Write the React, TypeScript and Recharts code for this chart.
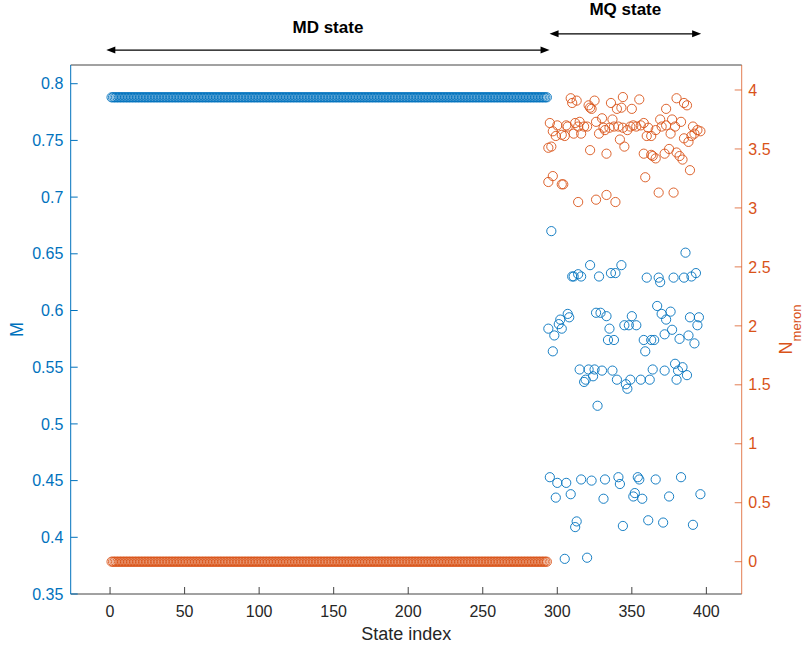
import React from 'react';
import { ScatterChart, Scatter, XAxis, YAxis, ReferenceLine } from 'recharts';

const FONT = '"Liberation Sans", Arial, Helvetica, sans-serif';
const BLUE = '#0072BD';
const ORANGE = '#D95319';
const FRAME = '#444444';

// Axis ticks
const xTicks = [0, 50, 100, 150, 200, 250, 300, 350, 400];
const mTicks = [0.35, 0.4, 0.45, 0.5, 0.55, 0.6, 0.65, 0.7, 0.75, 0.8];
const nTicks = [0, 0.5, 1, 1.5, 2, 2.5, 3, 3.5, 4];

// MD states: one value of M and N shared by every state in the range
const mdFirstIndex = 1;
const mdLastIndex = 293;
const mdM = 0.788;
const mdN = 0;

// MQ states: magnetization M
const mqIndexM = [
  296, 386, 310, 311, 314, 316, 322, 328, 336, 339, 343, 360, 368, 369, 378, 385, 390, 393,
  307, 308, 302, 301, 294, 303, 326, 329, 333, 350, 335, 345, 348, 353, 367, 370, 376, 373,
  389, 395, 394, 377, 298, 297, 334, 338, 358, 363, 365, 359, 372, 382, 388, 392,
  315, 321, 325, 330, 337, 324, 319, 318, 340, 346, 347, 349, 356, 362, 364, 372, 379, 381,
  384, 387, 380, 327,
  295, 300, 306, 316, 323, 332, 341, 342, 354, 355, 366, 383,
  299, 309, 331, 352, 351, 357, 375, 396,
  313, 312, 344, 361, 371, 391, 305, 320,
];
const mqM = [
  0.670, 0.651, 0.630, 0.630, 0.632, 0.630, 0.640, 0.630, 0.633, 0.633, 0.640, 0.629, 0.629, 0.625, 0.629, 0.629, 0.630, 0.633,
  0.597, 0.594, 0.592, 0.588, 0.584, 0.584, 0.598, 0.598, 0.595, 0.595, 0.584, 0.587, 0.587, 0.587, 0.604, 0.597, 0.599, 0.592,
  0.594, 0.594, 0.587, 0.583, 0.578, 0.564, 0.574, 0.574, 0.574, 0.574, 0.574, 0.564, 0.579, 0.575, 0.578, 0.571,
  0.548, 0.548, 0.548, 0.547, 0.547, 0.542, 0.539, 0.537, 0.539, 0.535, 0.531, 0.539, 0.539, 0.539, 0.548, 0.547, 0.553, 0.547,
  0.550, 0.543, 0.539, 0.516,
  0.453, 0.448, 0.448, 0.451, 0.450, 0.451, 0.453, 0.447, 0.453, 0.451, 0.451, 0.453,
  0.435, 0.438, 0.434, 0.439, 0.436, 0.434, 0.436, 0.438,
  0.414, 0.409, 0.410, 0.415, 0.413, 0.411, 0.381, 0.382,
];

// MQ states: meron number
const mqIndexN = [
  309, 310, 313, 321, 322, 323, 325, 336, 340, 343, 344, 350, 355, 373, 380, 385, 387,
  295, 297, 300, 299, 303, 305, 306, 307, 311, 315, 316, 318, 320, 314, 326, 328, 330, 331, 332,
  337, 338, 341, 344, 347, 349, 351, 353, 356, 358, 360, 361, 363, 366, 369, 370, 373, 376, 377,
  379, 383, 385, 388, 391, 392, 394, 396, 390, 335, 312, 342, 345,
  296, 294, 322, 333, 358, 363, 366, 364, 372, 375, 380, 382, 384, 389,
  294, 297, 303, 304, 359, 368, 378, 314, 326, 333, 339,
];
const mqN = [
  3.93, 3.89, 3.91, 3.87, 3.85, 3.84, 3.91, 3.89, 3.84, 3.85, 3.94, 3.84, 3.92, 3.84, 3.93, 3.89, 3.87,
  3.72, 3.65, 3.70, 3.61, 3.62, 3.61, 3.70, 3.69, 3.63, 3.73, 3.63, 3.69, 3.69, 3.69, 3.73, 3.63, 3.76, 3.68, 3.66,
  3.75, 3.69, 3.69, 3.68, 3.66, 3.69, 3.70, 3.69, 3.70, 3.72, 3.61, 3.68, 3.61, 3.66, 3.75, 3.69, 3.70, 3.63, 3.75,
  3.69, 3.73, 3.59, 3.56, 3.69, 3.63, 3.66, 3.65, 3.61, 3.68, 3.72, 3.58, 3.52,
  3.52, 3.51, 3.49, 3.46, 3.46, 3.45, 3.42, 3.44, 3.46, 3.50, 3.47, 3.44, 3.41, 3.32,
  3.22, 3.27, 3.20, 3.20, 3.26, 3.13, 3.13, 3.05, 3.07, 3.11, 3.05,
];

const mdIndices = Array.from({ length: mdLastIndex - mdFirstIndex + 1 }, (_, i) => mdFirstIndex + i);

const mData = [
  ...mdIndices.map((x) => ({ x, y: mdM })),
  ...mqIndexM.map((x, i) => ({ x, y: mqM[i] })),
];
const nData = [
  ...mdIndices.map((x) => ({ x, y: mdN })),
  ...mqIndexN.map((x, i) => ({ x, y: mqN[i] })),
];

const ring = (color: string) => (props: any) => (
  <circle cx={props.cx} cy={props.cy} r={4.6} fill="none" stroke={color} strokeWidth={0.9} />
);

// Double-headed arrow with a caption centred above it
const spanArrow = (caption: string, rise: number) => (props: any) => {
  const { x1, y1, x2, y2 } = props;
  const head = 9;
  const half = 3.5;
  const mid = (x1 + x2) / 2;
  return (
    <g>
      <line x1={x1 + head - 1} y1={y1} x2={x2 - head + 1} y2={y2} stroke="#000" strokeWidth={1.3} />
      <polygon points={`${x1},${y1} ${x1 + head},${y1 - half} ${x1 + head},${y1 + half}`} fill="#000" />
      <polygon points={`${x2},${y2} ${x2 - head},${y2 - half} ${x2 - head},${y2 + half}`} fill="#000" />
      <text x={mid} y={y1 - rise} textAnchor="middle" dominantBaseline="central" fontFamily={FONT} fontSize={17} fontWeight="bold" fill="#000">
        {caption}
      </text>
    </g>
  );
};

const xLabel = (props: any) => {
  const vb = props.viewBox;
  return (
    <text x={vb.x + vb.width / 2} y={634} textAnchor="middle" dominantBaseline="central" fontFamily={FONT} fontSize={18} fill="#262626">
      State index
    </text>
  );
};

const mLabel = (props: any) => {
  const vb = props.viewBox;
  const cy = vb.y + vb.height / 2;
  return (
    <text transform={`translate(${vb.x + 12}, ${cy}) rotate(-90)`} textAnchor="middle" fontFamily={FONT} fontSize={18} fill={BLUE}>
      M
    </text>
  );
};

const nLabel = (props: any) => {
  const vb = props.viewBox;
  const cy = vb.y + vb.height / 2;
  return (
    <text transform={`translate(${vb.x + 50}, ${cy}) rotate(-90)`} textAnchor="middle" fontFamily={FONT} fontSize={18} fill={ORANGE}>
      <tspan>N</tspan>
      <tspan fontSize={13} dy={9}>meron</tspan>
    </text>
  );
};

export default function App() {
  return (
    <div style={{ position: 'absolute', left: 0, top: 0, width: 806, height: 648, background: '#fff' }}>
      <ScatterChart width={806} height={648} margin={{ top: 64, right: 4.3, bottom: 14, left: 10.7 }}>
        <XAxis
          xAxisId="main"
          type="number"
          dataKey="x"
          domain={[-26.4, 423.7]}
          allowDataOverflow
          ticks={xTicks}
          height={40}
          stroke={FRAME}
          tickSize={-7}
          tickMargin={18.3}
          tick={{ fill: '#262626', fontSize: 16, fontFamily: FONT }}
          label={{ content: xLabel }}
        />
        <XAxis
          xAxisId="top"
          orientation="top"
          type="number"
          dataKey="x"
          domain={[-26.4, 423.7]}
          allowDataOverflow
          ticks={xTicks}
          height={1}
          stroke={FRAME}
          tickSize={-7}
          tick={false}
        />
        <YAxis
          yAxisId="m"
          type="number"
          dataKey="y"
          domain={[0.35, 0.8165]}
          allowDataOverflow
          ticks={mTicks}
          width={60}
          stroke={BLUE}
          tickSize={-7}
          tickMargin={14.4}
          tick={{ fill: BLUE, fontSize: 16, fontFamily: FONT }}
          label={{ content: mLabel }}
        />
        <YAxis
          yAxisId="n"
          orientation="right"
          type="number"
          dataKey="y"
          domain={[-0.274, 4.212]}
          allowDataOverflow
          ticks={nTicks}
          width={60}
          stroke={ORANGE}
          strokeOpacity={0.75}
          tickSize={-7}
          tickMargin={13.6}
          tick={{ fill: ORANGE, fontSize: 16, fontFamily: FONT }}
          label={{ content: nLabel }}
        />
        <Scatter xAxisId="main" yAxisId="m" data={mData} shape={ring(BLUE)} isAnimationActive={false} />
        <Scatter xAxisId="main" yAxisId="n" data={nData} shape={ring(ORANGE)} isAnimationActive={false} />
        <ReferenceLine
          xAxisId="main"
          yAxisId="m"
          segment={[{ x: -2.5, y: 0.8297 }, { x: 294.8, y: 0.8297 }]}
          ifOverflow="visible"
          shape={spanArrow('MD state', 22.5)}
        />
        <ReferenceLine
          xAxisId="main"
          yAxisId="m"
          segment={[{ x: 294.8, y: 0.8440 }, { x: 396.5, y: 0.8440 }]}
          ifOverflow="visible"
          shape={spanArrow('MQ state', 24.5)}
        />
      </ScatterChart>
    </div>
  );
}
